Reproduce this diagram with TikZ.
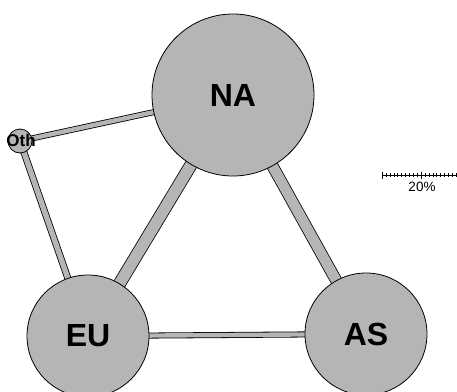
\documentclass[tikz,border=0pt]{standalone}
\usepackage{fontspec}
\setmainfont{Liberation Sans}
\usetikzlibrary{backgrounds}
\tikzset{
  region/.style={circle, draw=black, line width=0.8pt, fill=black!29, inner sep=0pt, font=\bfseries\fontsize{32}{32}\selectfont},
  flow/.style={draw=black, line width=0.8pt, double=black!29, double distance=#1},
}
\begin{document}
\begin{tikzpicture}[x=1pt, y=-1pt]
\useasboundingbox (0,0) rectangle (457,391);
\node[region, minimum size=162pt] (NA) at (233,95) {NA};
\node[region, minimum size=122pt] (EU) at (88,336) {EU};
\node[region, minimum size=122pt] (AS) at (366,334) {AS};
\node[region, minimum size=24pt, label={[font=\bfseries\fontsize{17}{17}\selectfont, xshift=1pt, yshift=1pt]center:Oth}] (Oth) at (20,141) {};
\begin{scope}[on background layer]
\draw[flow=11.4pt] (NA.center) -- (EU.center);
\draw[flow=10.4pt] (NA.center) -- (AS.center);
\draw[flow=4.4pt] (EU.center) -- (AS.center);
\draw[flow=5.4pt] (Oth.center) -- (EU.center);
\draw[flow=4.4pt] (Oth.center) -- (NA.center);
\end{scope}
\coordinate (bar) at (382,175);
\draw[line width=0.6pt] (bar) -- ++(75,0);
\foreach \i in {1,...,19} \draw[line width=0.4pt] (bar) ++(3.9*\i,-2) -- ++(0,4);
\draw[line width=0.6pt] (bar) ++(0,-3.5) -- ++(0,7);
\draw[line width=0.6pt] (bar) ++(39,-3.5) -- ++(0,7);
\node[font=\fontsize{13.5}{13.5}\selectfont] (pct) at (422,187) {20\%};
\end{tikzpicture}
\end{document}
